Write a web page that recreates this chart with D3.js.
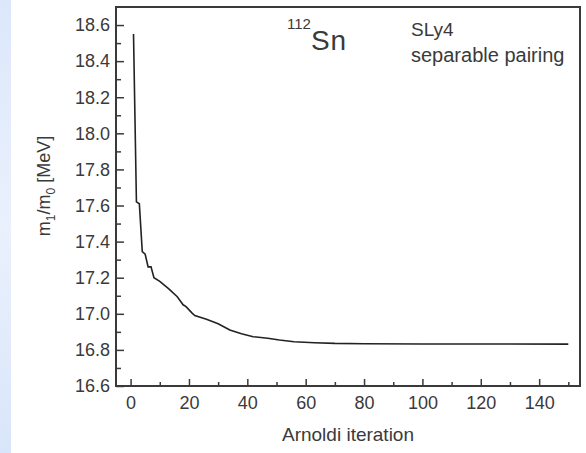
<!DOCTYPE html>
<html><head><meta charset="utf-8">
<script src="https://cdn.jsdelivr.net/npm/d3@7"></script>
<style>body{margin:0;background:#fff;} svg{display:block;font-family:"Liberation Sans",Arial,sans-serif;}</style>
</head><body>
<script>
const iterations = [1, 2, 3, 4, 5, 6, 7, 8, 10, 13, 16, 18, 19, 21, 22, 26, 30, 34, 38, 42, 47, 51, 56, 63, 70, 80, 100, 120, 150];
const values = [18.55, 17.62, 17.61, 17.345, 17.33, 17.26, 17.26, 17.20, 17.18, 17.14, 17.095, 17.05, 17.04, 17.005, 16.99, 16.97, 16.945, 16.91, 16.89, 16.873, 16.865, 16.855, 16.845, 16.84, 16.836, 16.834, 16.833, 16.833, 16.832];
const xTicks = [0, 20, 40, 60, 80, 100, 120, 140];
const xMinorTicks = [10, 30, 50, 70, 90, 110, 130, 150];
const yTicks = [16.6, 16.8, 17.0, 17.2, 17.4, 17.6, 17.8, 18.0, 18.2, 18.4, 18.6];
const yMinorTicks = [16.7, 16.9, 17.1, 17.3, 17.5, 17.7, 17.9, 18.1, 18.3, 18.5];

const W = 586, H = 453;
const L = 116, R = 580, T = 7, B = 386;
const svg = d3.select("body").append("svg").attr("width", W).attr("height", H);

const defs = svg.append("defs");
const g = defs.append("linearGradient").attr("id", "strip").attr("x1", 0).attr("y1", 0).attr("x2", 0).attr("y2", 1);
g.append("stop").attr("offset", "0").attr("stop-color", "#dce7fb");
g.append("stop").attr("offset", "0.5").attr("stop-color", "#eaf1fd");
g.append("stop").attr("offset", "1").attr("stop-color", "#d9e5fa");
svg.append("rect").attr("x", 0).attr("y", 0).attr("width", 11).attr("height", H).attr("fill", "url(#strip)");

const x = d3.scaleLinear().domain([-5, 154]).range([L, R]);
const y = d3.scaleLinear().domain([16.6, 18.7]).range([B, T]);

const axisColor = "#3a3a3a";
const textColor = "#3a3a3a";
const FONT = "'Liberation Sans', Arial, sans-serif";

// frame
svg.append("rect").attr("x", L).attr("y", T).attr("width", R - L).attr("height", B - T)
  .attr("fill", "none").attr("stroke", axisColor).attr("stroke-width", 2);

// bottom axis (ticks inward)
const xAxis = svg.append("g").attr("transform", `translate(0,${B})`)
  .call(d3.axisBottom(x).tickValues(xTicks).tickFormat(d3.format("d")).tickSize(-7).tickPadding(10));
xAxis.select(".domain").remove();
xAxis.selectAll("line").attr("stroke", axisColor).attr("stroke-width", 1.5);
xAxis.selectAll("text").attr("fill", textColor).attr("font-size", 18).attr("font-family", FONT);
const xMin = svg.append("g").attr("transform", `translate(0,${B})`)
  .call(d3.axisBottom(x).tickValues(xMinorTicks).tickFormat("").tickSize(-4));
xMin.select(".domain").remove();
xMin.selectAll("line").attr("stroke", axisColor).attr("stroke-width", 1.5);

// left axis (ticks inward)
const yAxis = svg.append("g").attr("transform", `translate(${L},0)`)
  .call(d3.axisLeft(y).tickValues(yTicks).tickFormat(d3.format(".1f")).tickSize(-8).tickPadding(6));
yAxis.select(".domain").remove();
yAxis.selectAll("line").attr("stroke", axisColor).attr("stroke-width", 1.5);
yAxis.selectAll("text").attr("fill", textColor).attr("font-size", 18).attr("font-family", FONT);
const yMin = svg.append("g").attr("transform", `translate(${L},0)`)
  .call(d3.axisLeft(y).tickValues(yMinorTicks).tickFormat("").tickSize(-5));
yMin.select(".domain").remove();
yMin.selectAll("line").attr("stroke", axisColor).attr("stroke-width", 1.5);

// data line
const pts = iterations.map((d, i) => [d, values[i]]);
svg.append("path").datum(pts)
  .attr("d", d3.line().x(d => x(d[0])).y(d => y(d[1])))
  .attr("fill", "none").attr("stroke", "#222").attr("stroke-width", 1.6);

// axis titles
svg.append("text").attr("x", (L + R) / 2).attr("y", 441).attr("text-anchor", "middle")
  .attr("font-size", 19).attr("fill", textColor).text("Arnoldi iteration");

const yl = svg.append("text").attr("transform", "translate(50,186) rotate(-90)")
  .attr("text-anchor", "middle").attr("font-size", 18).attr("fill", textColor);
yl.append("tspan").text("m");
yl.append("tspan").attr("font-size", 12).attr("dy", 5).text("1");
yl.append("tspan").attr("dy", -5).text("/m");
yl.append("tspan").attr("font-size", 12).attr("dy", 5).text("0");
yl.append("tspan").attr("dy", -5).text(" [MeV]");

// annotations
const sn = svg.append("text").attr("x", 287).attr("y", 50).attr("fill", textColor);
sn.append("tspan").attr("font-size", 15).attr("dy", -21).text("112");
sn.append("tspan").attr("font-size", 28).attr("dy", 21).attr("letter-spacing", 1).text("Sn");

svg.append("text").attr("x", 411).attr("y", 36).attr("font-size", 19).attr("fill", textColor).text("SLy4");
svg.append("text").attr("x", 411).attr("y", 62).attr("font-size", 20).attr("fill", textColor).text("separable pairing");
</script>
</body></html>
